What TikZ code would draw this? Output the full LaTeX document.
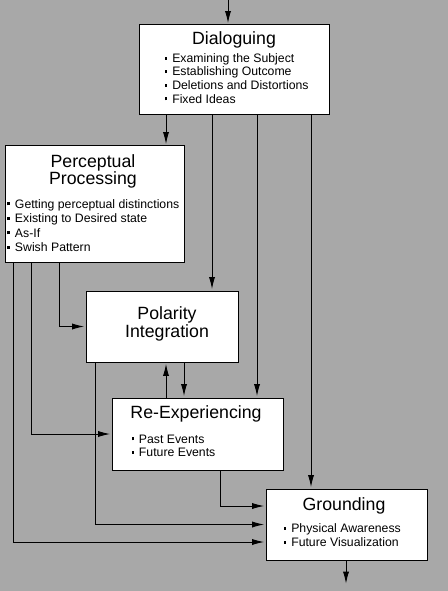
\documentclass[tikz,border=0pt]{standalone}
\usepackage{fontspec}
\setmainfont{Liberation Sans}
\usetikzlibrary{arrows.meta,fit}
\definecolor{bg}{HTML}{A8A8A8}
\newcommand{\itm}[1]{\rule[2.2pt]{2pt}{2.3pt}\hspace{3.6pt}#1}
\begin{document}
\begin{tikzpicture}[x=0.75pt,y=-0.75pt, line width=0.75pt,
  box/.style={draw=black, fill=white, inner sep=0pt, line width=0.75pt},
  ttl/.style={font=\fontsize{13.3}{15}\selectfont, inner sep=0pt, anchor=base},
  itmn/.style={font=\fontsize{9.2}{11}\selectfont, inner sep=0pt, anchor=base west},
  arr/.style={-{Latex[length=9pt,width=4.6pt]}, shorten >=1pt}]
\fill[bg] (0,0) rectangle (448,591);
\useasboundingbox (0,0) rectangle (448,591);
% boxes
\node[box, fit={(139,25)(329,115)}] (dia) {};
\node[box, fit={(5,146)(184,262)}] (per) {};
\node[box, fit={(86,291)(238,362)}] (pol) {};
\node[box, fit={(112,398)(283,470)}] (rex) {};
\node[box, fit={(266,489)(427,560)}] (gro) {};
% Dialoguing
\node[ttl] (diat) at (234,45) {Dialoguing};
\node[itmn] (dia1) at (164.3,62.7) {\itm{Examining the Subject}};
\node[itmn] (dia2) at (164.3,76) {\itm{Establishing Outcome}};
\node[itmn] (dia3) at (164.3,90) {\itm{Deletions and Distortions}};
\node[itmn] (dia4) at (164.3,103.3) {\itm{Fixed Ideas}};
% Perceptual Processing
\node[ttl] (pert1) at (93,167.3) {Perceptual};
\node[ttl] (pert2) at (93,185) {Processing};
\node[itmn] (per1) at (7,208.3) {\itm{Getting perceptual distinctions}};
\node[itmn] (per2) at (7,223) {\itm{Existing to Desired state}};
\node[itmn] (per3) at (7,237.3) {\itm{As-If}};
\node[itmn] (per4) at (7,251.7) {\itm{Swish Pattern}};
% Polarity Integration
\node[ttl] (polt1) at (167,319.3) {Polarity};
\node[ttl] (polt2) at (167,337.7) {Integration};
% Re-Experiencing
\node[ttl] (rext) at (196,418.3) {Re-Experiencing};
\node[itmn] (rex1) at (131,443.3) {\itm{Past Events}};
\node[itmn] (rex2) at (131,456.7) {\itm{Future Events}};
% Grounding
\node[ttl] (grot) at (344,510) {Grounding};
\node[itmn] (gro1) at (283.3,532.7) {\itm{Physical Awareness}};
\node[itmn] (gro2) at (283.3,546.7) {\itm{Future Visualization}};
% helper coordinates
\coordinate (topin) at (228,0);
\coordinate (out) at (346,585);
\coordinate (k13) at (13,0);
\coordinate (k31) at (31,0);
\coordinate (k59) at (59,0);
\coordinate (k95) at (95,0);
\coordinate (k166) at (166,0);
\coordinate (k184) at (184,0);
\coordinate (k212) at (212,0);
\coordinate (k220) at (220,0);
\coordinate (k257) at (257,0);
\coordinate (k311) at (311,0);
\coordinate (r506) at (0,506);
\coordinate (r542) at (0,542);
% connectors
\draw[arr] (topin) -- (dia.north -| topin);
\draw[arr] (dia.south -| k166) -- (per.north -| k166);
\draw[arr] (dia.south -| k212) -- (pol.north -| k212);
\draw[arr] (dia.south -| k257) -- (rex.north -| k257);
\draw[arr] (dia.south -| k311) -- (gro.north -| k311);
\draw[arr] (per.south -| k59) |- (pol.west);
\draw[arr] (per.south -| k31) |- (rex.west);
\draw[arr] (per.south -| k13) |- (gro.west |- r542);
\draw[arr] (pol.south -| k95) |- (gro.west);
\draw[arr] (rex.north -| k166) -- (pol.south -| k166);
\draw[arr] (pol.south -| k184) -- (rex.north -| k184);
\draw[arr] (rex.south -| k220) |- (gro.west |- r506);
\draw[arr] (gro.south -| out) -- (out);
\end{tikzpicture}
\end{document}
